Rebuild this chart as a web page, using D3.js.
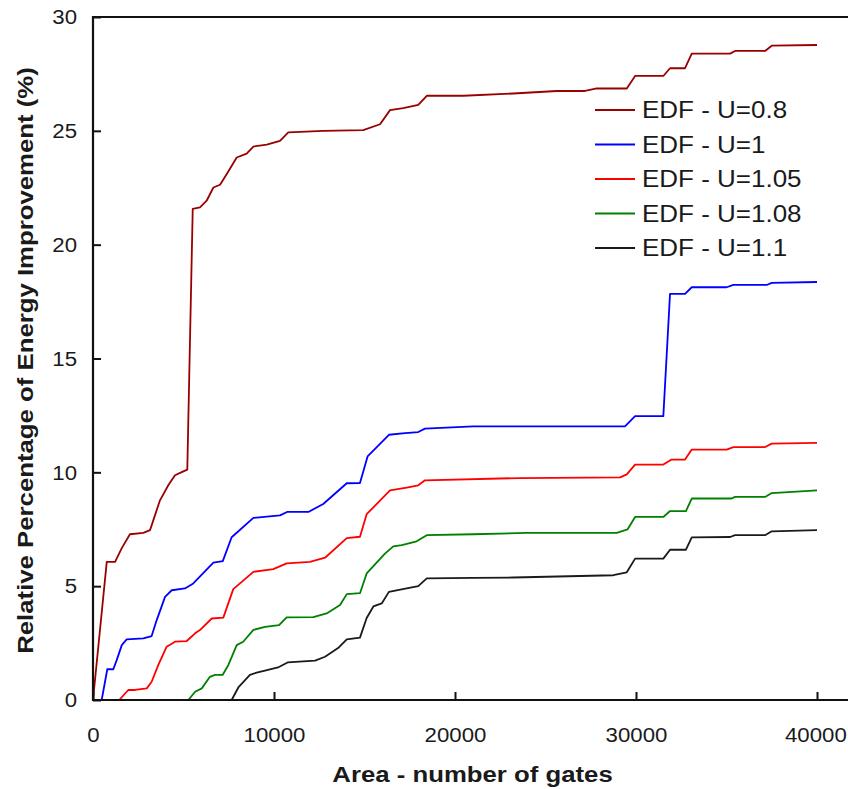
<!DOCTYPE html>
<html>
<head>
<meta charset="utf-8">
<script src="https://cdn.jsdelivr.net/npm/d3@7"></script>
<style>
  html, body { margin: 0; padding: 0; background: #fff; }
  svg { display: block; }
  text { font-family: "Liberation Sans", Arial, sans-serif; fill: #1a1a1a; }
</style>
</head>
<body>
<svg id="chart" width="848" height="789"></svg>
<script>
// ---------- data ----------
const seriesNames = ["EDF - U=0.8", "EDF - U=1", "EDF - U=1.05", "EDF - U=1.08", "EDF - U=1.1"];
const seriesColors = ["#990000", "#0000ff", "#ff0000", "#008000", "#1a1a1a"];

const xTicks = [0, 10000, 20000, 30000, 40000];
const yTicks = [0, 5, 10, 15, 20, 25, 30];

const xU08 = [0, 760, 1220, 1590, 2040, 2780, 3150, 3330, 3700, 4160, 4530, 4900, 5210, 5510, 5910, 6280, 6650, 7020, 7390, 7940, 8490, 8860, 9600, 10330, 10790, 12720, 14930, 15860, 16410, 17140, 17970, 18440, 20460, 23220, 25620, 27180, 27830, 29490, 29950, 31510, 31880, 32710, 33080, 35200, 35470, 37130, 37500, 40000];
const yU08 = [0, 6.07, 6.07, 6.67, 7.28, 7.34, 7.46, 7.89, 8.77, 9.43, 9.87, 10.01, 10.12, 21.57, 21.64, 21.93, 22.51, 22.63, 23.1, 23.83, 24.0, 24.31, 24.39, 24.56, 24.93, 25.0, 25.03, 25.29, 25.91, 26.0, 26.14, 26.54, 26.54, 26.64, 26.75, 26.75, 26.86, 26.86, 27.41, 27.41, 27.75, 27.75, 28.39, 28.39, 28.51, 28.51, 28.74, 28.77];

const xU1 = [0, 480, 790, 1120, 1310, 1590, 1860, 2780, 3240, 3520, 3980, 4350, 5080, 5540, 6650, 7170, 7660, 8860, 10330, 10720, 11900, 12720, 14020, 14750, 15170, 16350, 17240, 17970, 18340, 21010, 23590, 29390, 29950, 31510, 31880, 32710, 33080, 35010, 35380, 37220, 37500, 40000];
const yU1 = [0, 0, 1.35, 1.35, 1.75, 2.41, 2.66, 2.71, 2.81, 3.51, 4.53, 4.82, 4.9, 5.12, 6.03, 6.1, 7.15, 8.0, 8.11, 8.26, 8.26, 8.61, 9.52, 9.53, 10.7, 11.65, 11.72, 11.77, 11.92, 12.02, 12.02, 12.02, 12.47, 12.47, 17.84, 17.84, 18.13, 18.13, 18.23, 18.23, 18.32, 18.36];

const xU105 = [1450, 1950, 2320, 2970, 3240, 3610, 4070, 4530, 5180, 5640, 5910, 6560, 7200, 7750, 8860, 9960, 10700, 11990, 12820, 14020, 14750, 15120, 16410, 17330, 17970, 18340, 23590, 29120, 29490, 29950, 31510, 31970, 32710, 33080, 35010, 35380, 37130, 37500, 40000];
const yU105 = [0, 0.44, 0.44, 0.51, 0.8, 1.54, 2.34, 2.56, 2.59, 2.93, 3.07, 3.58, 3.62, 4.87, 5.63, 5.75, 6.0, 6.07, 6.25, 7.11, 7.17, 8.16, 9.21, 9.33, 9.43, 9.65, 9.75, 9.78, 9.91, 10.34, 10.34, 10.56, 10.56, 11.0, 11.0, 11.11, 11.11, 11.26, 11.29];

const xU108 = [4350, 5270, 5640, 6010, 6460, 6740, 7160, 7480, 7940, 8300, 8860, 9500, 10280, 10700, 12170, 12910, 13650, 14020, 14750, 15120, 16130, 16590, 17060, 17880, 18440, 21010, 23960, 28940, 29530, 29950, 31510, 31880, 32760, 33080, 35290, 35470, 37130, 37500, 40000];
const yU108 = [0, 0, 0.36, 0.51, 1.02, 1.1, 1.1, 1.54, 2.41, 2.56, 3.08, 3.21, 3.29, 3.63, 3.64, 3.8, 4.17, 4.65, 4.69, 5.56, 6.43, 6.75, 6.8, 6.97, 7.24, 7.28, 7.34, 7.34, 7.49, 8.04, 8.04, 8.3, 8.3, 8.85, 8.85, 8.92, 8.92, 9.09, 9.21];

const xU11 = [7660, 8030, 8670, 9040, 9500, 10220, 10750, 12270, 12820, 13540, 14020, 14750, 15120, 15490, 15950, 16350, 17330, 17970, 18440, 21010, 23220, 28750, 29490, 29950, 31510, 31880, 32760, 33080, 35200, 35470, 37130, 37500, 40000];
const yU11 = [0, 0.55, 1.1, 1.2, 1.29, 1.43, 1.65, 1.73, 1.9, 2.28, 2.66, 2.74, 3.6, 4.11, 4.24, 4.75, 4.9, 5.0, 5.34, 5.36, 5.38, 5.48, 5.61, 6.21, 6.21, 6.6, 6.6, 7.14, 7.16, 7.24, 7.24, 7.41, 7.46];

const seriesX = [xU08, xU1, xU105, xU108, xU11];
const seriesY = [yU08, yU1, yU105, yU108, yU11];

// ---------- layout ----------
const W = 848, H = 789;
const mLeft = 93, mRight = 817, mTop = 17, mBottom = 700;

const svg = d3.select("#chart");
const x = d3.scaleLinear().domain([0, 40000]).range([mLeft, mRight]);
const y = d3.scaleLinear().domain([0, 30]).range([mBottom, mTop]);

// series
const line = d3.line().x(d => x(d[0])).y(d => y(d[1]));
seriesX.forEach((xs, i) => {
  const pts = xs.map((v, j) => [v, seriesY[i][j]]);
  svg.append("path")
    .datum(pts)
    .attr("fill", "none")
    .attr("stroke", seriesColors[i])
    .attr("stroke-width", 1.8)
    .attr("stroke-linejoin", "round")
    .attr("d", line);
});

// axes
const xAxis = svg.append("g")
  .attr("transform", `translate(0,${mBottom})`)
  .call(d3.axisBottom(x).tickValues(xTicks).tickSize(-8).tickPadding(27).tickFormat(d3.format("d")));
const yAxis = svg.append("g")
  .attr("transform", `translate(${mLeft},0)`)
  .call(d3.axisLeft(y).tickValues(yTicks).tickSize(-8).tickPadding(15).tickFormat(d3.format("d")));

[xAxis, yAxis].forEach(g => {
  g.select(".domain").remove();
  g.selectAll(".tick line").attr("stroke", "#111").attr("stroke-width", 2);
  g.selectAll(".tick text")
    .attr("font-family", "Liberation Sans, Arial, sans-serif")
    .attr("font-size", 21)
    .attr("fill", "#1a1a1a")
    .attr("transform", "scale(1.06,1)");
});
// keep the last x label fully inside the picture
xAxis.selectAll(".tick text").filter(d => d === 40000).attr("x", -1.5);

// frame lines (left, top, bottom)
svg.append("path")
  .attr("d", `M${W},${mTop}H${mLeft}V${mBottom}H${W}`)
  .attr("fill", "none")
  .attr("stroke", "#111")
  .attr("stroke-width", 2.2);

// axis titles
svg.append("text")
  .attr("transform", `translate(${(mLeft + W) / 2 + 2},782) scale(1.12,1)`)
  .attr("text-anchor", "middle")
  .attr("font-size", 23)
  .attr("font-weight", "bold")
  .text("Area - number of gates");

svg.append("text")
  .attr("transform", `translate(33,${(mTop + mBottom) / 2 + 2}) rotate(-90) scale(1.12,1)`)
  .attr("text-anchor", "middle")
  .attr("font-size", 23)
  .attr("font-weight", "bold")
  .text("Relative Percentage of Energy Improvement (%)");

// legend
const legend = svg.append("g");
seriesNames.forEach((name, i) => {
  const cy = 110 + i * 34.5;
  legend.append("line")
    .attr("x1", 595).attr("x2", 635)
    .attr("y1", cy).attr("y2", cy)
    .attr("stroke", seriesColors[i])
    .attr("stroke-width", 2);
  legend.append("text")
    .attr("transform", `translate(642,${cy + 8}) scale(1.13,1)`)
    .attr("font-size", 23)
    .text(name);
});
</script>
</body>
</html>
